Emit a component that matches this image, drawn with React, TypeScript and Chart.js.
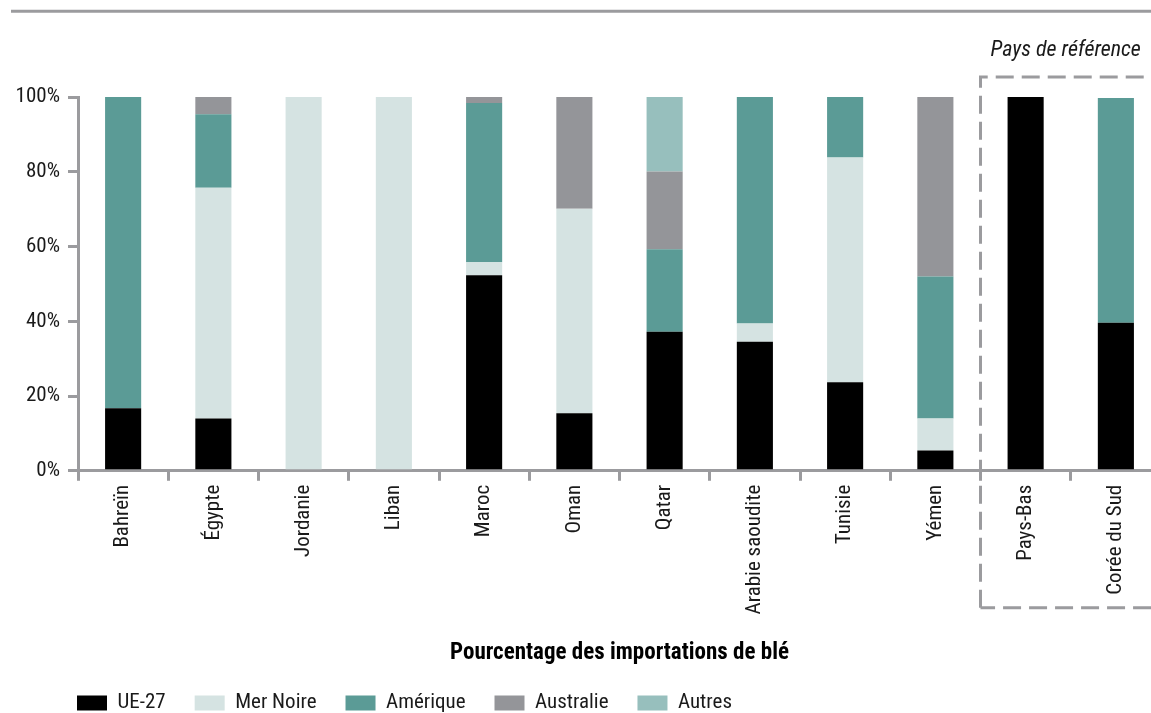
import React, { useEffect, useRef } from "react";
import { Chart, registerables } from "chart.js";

Chart.register(...registerables);

const categories = [
  "Bahreïn",
  "Égypte",
  "Jordanie",
  "Liban",
  "Maroc",
  "Oman",
  "Qatar",
  "Arabie saoudite",
  "Tunisie",
  "Yémen",
  "Pays-Bas",
  "Corée du Sud",
];
const ue27 = [16.7, 14.0, 0, 0, 52.3, 15.4, 37.2, 34.5, 23.7, 5.4, 100, 39.6];
const merNoire = [0, 61.7, 100, 100, 3.5, 54.7, 0, 4.9, 60.1, 8.6, 0, 0];
const amerique = [83.3, 19.7, 0, 0, 42.6, 0, 22.1, 60.6, 16.2, 38.0, 0, 60.1];
const australie = [0, 4.6, 0, 0, 1.6, 29.9, 20.8, 0, 0, 48.0, 0, 0];
const autres = [0, 0, 0, 0, 0, 0, 19.9, 0, 0, 0, 0, 0];
const seriesNames = ["UE-27", "Mer Noire", "Amérique", "Australie", "Autres"];
const seriesColors = ["#000000", "#d5e3e2", "#5b9b96", "#949599", "#97bfbd"];
const yTickValues = [0, 20, 40, 60, 80, 100];
const xAxisTitle = "Pourcentage des importations de blé";
const boxLabel = "Pays de référence";

const FONT = "'Roboto Condensed', 'DejaVu Sans Condensed', sans-serif";
const GRAY = "#9b9b9e";
const TEXT = "#1a1a1a";
const LEGEND_PAD = 29;

const extras = {
  id: "extras",
  beforeLayout(chart: any) {
    const lg = chart.legend;
    if (lg && !lg.__fixedFit) {
      const orig = lg.fit.bind(lg);
      lg.fit = function () {
        orig();
        this.height = 41;
      };
      lg.__fixedFit = true;
    }
  },
  afterLayout(chart: any) {
    const lg = chart.legend;
    if (lg) {
      lg.left += 48;
      lg.right += 48;
      lg.width = lg.right - lg.left;
      lg.top -= 8.5;
      lg.bottom = chart.height + 20;
      lg.height = lg.bottom - lg.top;
    }
  },
  afterDraw(chart: any) {
    const { ctx } = chart;
    const x = chart.scales.x;
    const y = chart.scales.y;
    ctx.save();
    ctx.strokeStyle = GRAY;
    ctx.lineWidth = 3;
    ctx.beginPath();
    ctx.moveTo(11, 11.3);
    ctx.lineTo(chart.width, 11.3);
    ctx.stroke();

    const left = (x.getPixelForValue(9) + x.getPixelForValue(10)) / 2;
    const top = y.getPixelForValue(100) - 20;
    const bottom = x.top + 137;
    const right = x.right - 2;
    ctx.setLineDash([18, 8]);
    ctx.beginPath();
    ctx.moveTo(left, bottom);
    ctx.lineTo(left, top);
    ctx.lineTo(right, top);
    ctx.lineTo(right, bottom);
    ctx.lineTo(left, bottom);
    ctx.stroke();
    ctx.setLineDash([]);

    ctx.font = `italic 22px ${FONT}`;
    ctx.fillStyle = TEXT;
    ctx.textAlign = "right";
    ctx.textBaseline = "middle";
    ctx.fillText(boxLabel, x.getPixelForValue(11) + 25, 50);
    ctx.restore();
  },
};

export default function App() {
  const canvasRef = useRef<HTMLCanvasElement | null>(null);

  useEffect(() => {
    if (!canvasRef.current) return;
    const data = [ue27, merNoire, amerique, australie, autres];
    const chart = new Chart(canvasRef.current, {
      type: "bar",
      data: {
        labels: categories,
        datasets: data.map((d, i) => ({
          label: seriesNames[i],
          data: d,
          backgroundColor: seriesColors[i],
          borderWidth: 0,
          categoryPercentage: 1,
          barPercentage: 0.4,
        })),
      },
      options: {
        animation: false,
        responsive: true,
        maintainAspectRatio: false,
        layout: { padding: { top: 97, right: 14, left: 0, bottom: 0 } },
        plugins: {
          legend: {
            position: "bottom",
            align: "start",
            labels: {
              boxWidth: 30,
              boxHeight: 15,
              padding: LEGEND_PAD,
              color: TEXT,
              font: { family: FONT, size: 21 },
            },
          },
          tooltip: { enabled: false },
        },
        scales: {
          x: {
            stacked: true,
            grid: {
              offset: true,
              drawOnChartArea: false,
              drawTicks: true,
              tickLength: 10,
              color: GRAY,
              lineWidth: 3,
            },
            border: { display: true, color: GRAY, width: 3 },
            ticks: {
              minRotation: 90,
              maxRotation: 90,
              padding: 4,
              color: TEXT,
              font: { family: FONT, size: 21 },
            },
            title: {
              display: true,
              text: xAxisTitle,
              color: "#000",
              font: { family: FONT, size: 23, weight: "bold" },
              padding: { top: 21, bottom: 5 },
            },
          },
          y: {
            stacked: true,
            min: 0,
            max: 100,
            afterFit(scale: any) {
              scale.width = 78;
            },
            afterBuildTicks(scale: any) {
              scale.ticks = yTickValues.map((v) => ({ value: v }));
            },
            grid: {
              drawOnChartArea: false,
              drawTicks: true,
              tickLength: 10,
              color: GRAY,
              lineWidth: 3,
            },
            border: { display: true, color: GRAY, width: 3 },
            ticks: {
              padding: 8,
              color: TEXT,
              font: { family: FONT, size: 21 },
              callback: (v: any) => `${v}%`,
            },
          },
        },
      },
      plugins: [extras],
    });
    return () => chart.destroy();
  }, []);

  return (
    <div
      style={{
        position: "fixed",
        left: 0,
        top: 0,
        width: 1151,
        height: 713,
        overflow: "hidden",
        background: "#fff",
      }}
    >
      <div style={{ position: "relative", width: 1175, height: 713 }}>
        <canvas ref={canvasRef} />
      </div>
    </div>
  );
}
